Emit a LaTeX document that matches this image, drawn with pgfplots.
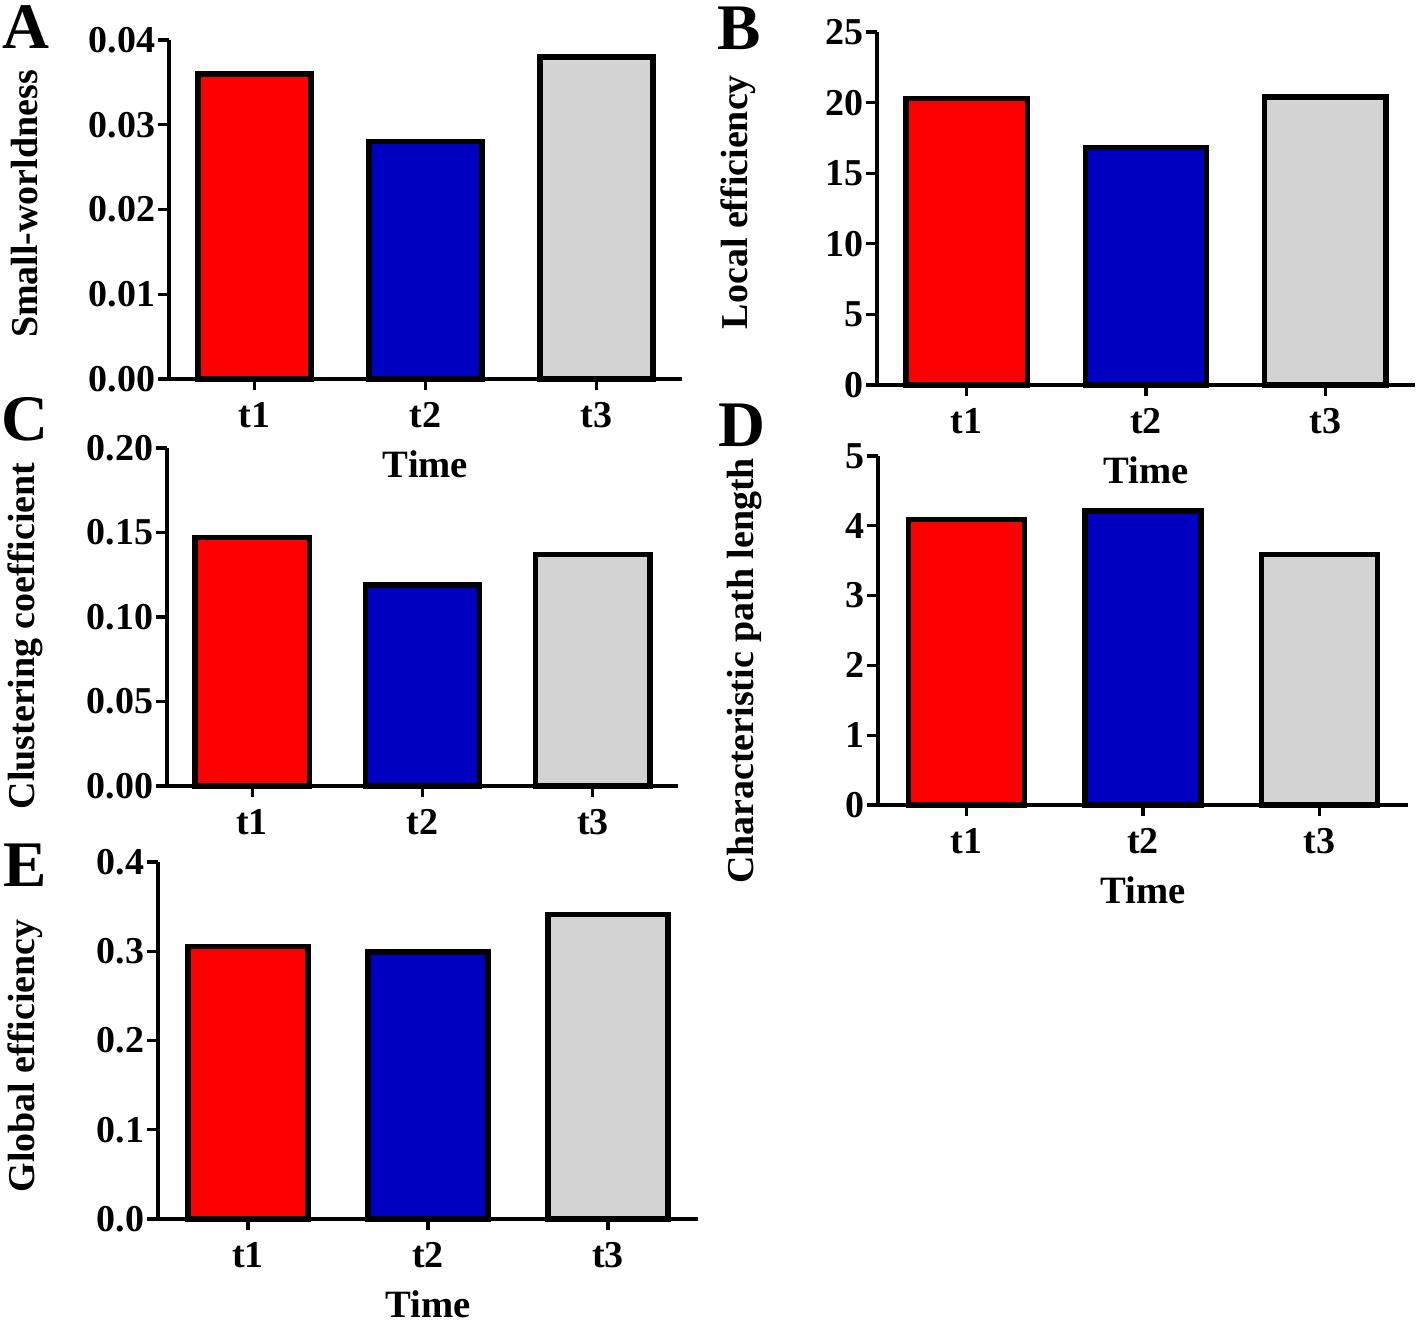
\documentclass[border=0pt]{standalone}
\usepackage{fontspec}
\setmainfont{Liberation Serif}
\usepackage{pgfplots}
\pgfplotsset{compat=1.18}

\definecolor{barred}{RGB}{255,0,0}
\definecolor{barblue}{RGB}{0,0,192}
\definecolor{bargray}{RGB}{211,211,211}

\pgfplotsset{
  panel/.style={
    scale only axis,
    anchor=south west,
    clip=false,
    axis x line=bottom,
    axis y line=left,
    axis line style={-, line width=0.9pt},
    every tick/.style={black, line width=0.9pt},
    tick align=outside,
    major tick length=1.1mm,
    xmin=0.5, xmax=3.5, ymin=0,
    xtick={1,2,3}, xticklabels={t1,t2,t3},
    scaled y ticks=false,
    ybar, bar shift=0pt, bar width=0.66,
    tick label style={font=\fontsize{10.8}{12}\selectfont\bfseries},
    yticklabel style={inner xsep=0.6pt},
    label style={font=\fontsize{10.8}{13}\selectfont\bfseries},
    x label style={font=\fontsize{11}{13}\selectfont\bfseries},
    xlabel={Time},
    x label style={at={(axis description cs:0.5,0)}, anchor=center, yshift=-8.5mm},
    y label style={anchor=center},
  },
  bars/.style={draw=black, line width=1.5pt, fill=#1},
}

\begin{document}
\begin{tikzpicture}
\useasboundingbox (0,0) rectangle (141.8mm,132.3mm);

% A
\begin{axis}[panel, at={(16.9mm,94.4mm)}, width=51.3mm, height=33.9mm,
  ymax=0.04, ytick={0,0.01,0.02,0.03,0.04},
  yticklabels={0.00,0.01,0.02,0.03,0.04},
  ylabel={Small-worldness},
  y label style={at={(axis description cs:-0.281,0.516)}}]
\addplot[bars=barred] coordinates {(1,0.036)};
\addplot[bars=barblue] coordinates {(2,0.028)};
\addplot[bars=bargray] coordinates {(3,0.038)};
\end{axis}

% B
\begin{axis}[panel, at={(87.7mm,93.8mm)}, width=53.8mm, height=35.3mm,
  ymax=25, ytick={0,5,10,15,20,25},
  yticklabels={0,5,10,15,20,25},
  ylabel={Local efficiency}, bar width=0.676,
  y label style={at={(axis description cs:-0.258,0.518)}}]
\addplot[bars=barred] coordinates {(1,20.3)};
\addplot[bars=barblue] coordinates {(2,16.8)};
\addplot[bars=bargray] coordinates {(3,20.4)};
\end{axis}

% C
\begin{axis}[panel, at={(16.7mm,53.7mm)}, width=51.1mm, height=33.8mm,
  ymax=0.2, ytick={0,0.05,0.1,0.15,0.2},
  yticklabels={0.00,0.05,0.10,0.15,0.20},
  ylabel={Clustering coefficient}, bar width=0.67,
  x label style={yshift=-10.2mm},
  y label style={at={(axis description cs:-0.278,0.444)}}]
\addplot[bars=barred] coordinates {(1,0.147)};
\addplot[bars=barblue] coordinates {(2,0.119)};
\addplot[bars=bargray] coordinates {(3,0.137)};
\end{axis}

% D
\begin{axis}[panel, at={(87.8mm,51.8mm)}, width=53.0mm, height=34.9mm,
  ymax=5, ytick={0,1,2,3,4,5},
  yticklabels={0,1,2,3,4,5},
  ylabel={Characteristic path length}, bar width=0.657,
  y label style={at={(axis description cs:-0.251,0.384)}}]
\addplot[bars=barred] coordinates {(1,4.09)};
\addplot[bars=barblue] coordinates {(2,4.21)};
\addplot[bars=bargray] coordinates {(3,3.59)};
\end{axis}

% E
\begin{axis}[panel, at={(15.8mm,10.4mm)}, width=54.0mm, height=35.7mm,
  ymax=0.4, ytick={0,0.1,0.2,0.3,0.4},
  yticklabels={0.0,0.1,0.2,0.3,0.4},
  ylabel={Global efficiency}, bar width=0.667,
  y label style={at={(axis description cs:-0.246,0.457)}}]
\addplot[bars=barred] coordinates {(1,0.305)};
\addplot[bars=barblue] coordinates {(2,0.299)};
\addplot[bars=bargray] coordinates {(3,0.341)};
\end{axis}

% panel letters
\begin{scope}[every node/.style={font=\fontsize{18.5}{20}\selectfont\bfseries}]
\node at (2.6mm,129.6mm) {A};
\node at (73.9mm,129.5mm) {B};
\node at (2.5mm,90.4mm) {C};
\node at (74.2mm,89.8mm) {D};
\node at (2.5mm,45.8mm) {E};
\end{scope}
\end{tikzpicture}
\end{document}
